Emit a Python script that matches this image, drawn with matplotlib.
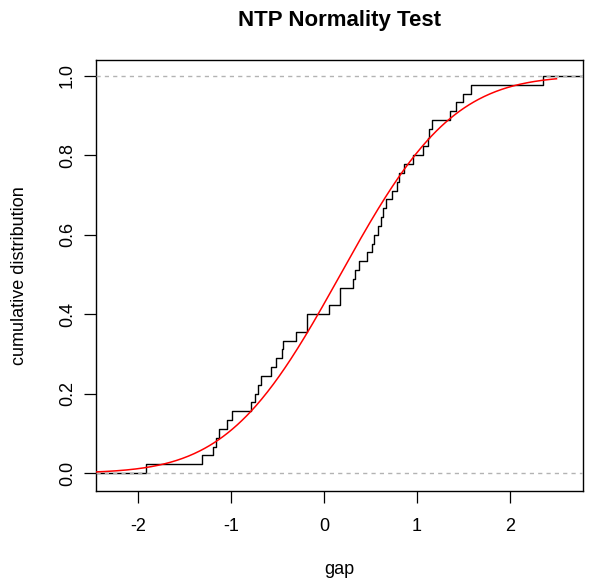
import math
import numpy as np
import matplotlib
matplotlib.use("Agg")
import matplotlib.pyplot as plt

# ---- data ----
gap = [-1.91, -1.31, -1.195, -1.16, -1.125, -1.04, -0.99, -0.78, -0.74, -0.706,
       -0.677, -0.573, -0.512, -0.45, -0.437, -0.297, -0.186, -0.18, 0.054, 0.17,
       0.175, 0.307, 0.338, 0.38, 0.459, 0.52, 0.541, 0.577, 0.609, 0.638,
       0.663, 0.727, 0.781, 0.81, 0.864, 0.96, 1.068, 1.115, 1.133, 1.158,
       1.35, 1.416, 1.498, 1.577, 2.358]
norm_mean = 0.177
norm_sd = 0.95
curve_range = (-2.5, 2.5)
x_ticks = [-2, -1, 0, 1, 2]
y_ticks = [0.0, 0.2, 0.4, 0.6, 0.8, 1.0]
y_tick_labels = ["0.0", "0.2", "0.4", "0.6", "0.8", "1.0"]
title = "NTP Normality Test"
xlabel = "gap"
ylabel = "cumulative distribution"

plt.rcParams['font.family'] = ['Liberation Sans', 'DejaVu Sans']

W, H = 593, 582
fig = plt.figure(figsize=(W / 100, H / 100), dpi=100)
L, R, T, B = 96, 583, 60, 490.5
ax = fig.add_axes([L / W, (H - B) / H, (R - L) / W, (B - T) / H])

xlim = (-2.452, 2.785)
ylim = (-0.044, 1.04)

xs = np.sort(np.array(gap))
n = len(xs)
ys = np.arange(1, n + 1) / n
sx = np.concatenate([[xlim[0]], xs, [xlim[1]]])
sy = np.concatenate([[0.0], ys, [1.0]])
ax.step(sx, sy, where='post', color='black', lw=1.0, zorder=2)

ax.axhline(0, color='#B3B3B3', lw=1.0, ls=(0, (3, 3)), zorder=3)
ax.axhline(1, color='#B3B3B3', lw=1.0, ls=(0, (3, 3)), zorder=3)

cx = np.linspace(curve_range[0], curve_range[1], 400)
cy = np.array([0.5 * (1 + math.erf((v - norm_mean) / (norm_sd * math.sqrt(2)))) for v in cx])
ax.plot(cx, cy, color='#FF0000', lw=1.1, zorder=4)

ax.set_xlim(*xlim)
ax.set_ylim(*ylim)
ax.set_xticks(x_ticks)
ax.set_xticklabels([str(t) for t in x_ticks])
ax.set_yticks(y_ticks)
ax.set_yticklabels(y_tick_labels, rotation=90, va='center')
ax.tick_params(axis='both', direction='out', length=8.5, width=0.9, labelsize=13, colors='black')
ax.tick_params(axis='x', pad=11)
ax.tick_params(axis='y', pad=6)
for s in ax.spines.values():
    s.set_linewidth(1.0)
    s.set_color('black')

ax.set_xlabel(xlabel, fontsize=13, va='center')
ax.xaxis.set_label_coords(0.5, (B - 570) / (B - T))
ax.set_ylabel(ylabel, fontsize=13, va='center')
ax.yaxis.set_label_coords((20 - L) / (R - L), 0.5)
ax.text(0.5, (B - 26) / (B - T), title, transform=ax.transAxes, ha='center',
        va='baseline', fontsize=16, fontweight='bold')

fig.savefig("out.png", dpi=100)
